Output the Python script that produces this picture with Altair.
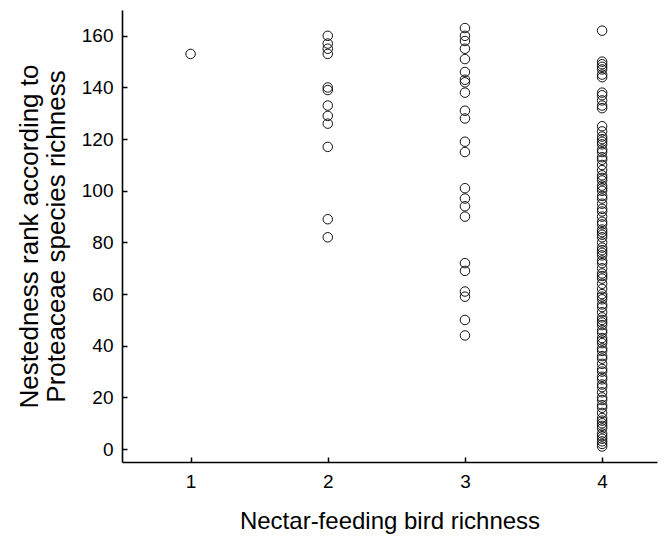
import altair as alt
import pandas as pd

# x = nectar-feeding bird richness, y = nestedness rank
col1 = [153]
col2 = [160, 157, 155, 153, 140, 139, 133, 129, 126, 117, 89, 82]
col3 = [163, 160, 158, 155, 151, 146, 143, 142, 138, 131, 128, 119, 115,
        101, 97, 94, 90, 72, 69, 61, 59, 50, 44]
col4 = [162, 150, 149, 148, 147, 145, 144, 138, 137, 135, 133, 132,
        125, 123, 121, 120, 119, 118, 116, 115, 113, 112, 110, 108, 106, 105,
        104, 102, 101, 100, 98, 97, 95, 93, 92, 90, 88, 87, 85, 84, 83, 82,
        80, 78, 77, 76, 75, 73, 72, 70, 68, 67, 66, 64, 62, 60, 59, 58, 56,
        55, 53, 51, 50, 49, 48, 46, 45, 43, 42, 41, 39, 38, 36, 35, 33, 31,
        30, 28, 27, 25, 24, 22, 20, 19, 17, 16, 14, 12, 11, 10, 9, 8, 6, 5,
        4, 3, 2, 1]
x_ticks = [1, 2, 3, 4]
y_ticks = [0, 20, 40, 60, 80, 100, 120, 140, 160]

rows = []
for xv, col in zip([1, 2, 3, 4], [col1, col2, col3, col4]):
    for v in col:
        rows.append({"birds": xv, "rank": v})
df = pd.DataFrame(rows)

FONT = "Liberation Sans"
xscale = alt.Scale(domain=[0.5, 4.4], nice=False, zero=False)
yscale = alt.Scale(domain=[-5, 170], nice=False, zero=False)

points = alt.Chart(df).mark_point(
    shape="circle", filled=False, size=90, stroke="#111", strokeWidth=1, opacity=1
).encode(
    x=alt.X("birds:Q", scale=xscale,
            axis=alt.Axis(values=x_ticks, title="Nectar-feeding bird richness",
                          tickSize=0, labelPadding=10, titlePadding=18,
                          domainColor="black", domainWidth=1.6, grid=False,
                          labelFontSize=19, titleFontSize=24, labelFont=FONT,
                          titleFont=FONT, titleFontWeight="normal",
                          labelColor="black", titleColor="black")),
    y=alt.Y("rank:Q", scale=yscale,
            axis=alt.Axis(values=y_ticks,
                          title=["Nestedness rank according to", "Proteaceae species richness"],
                          tickSize=0, labelPadding=9, titlePadding=12,
                          domainColor="black", domainWidth=1.6, grid=False,
                          labelFontSize=19, titleFontSize=26, labelFont=FONT,
                          titleFont=FONT, titleFontWeight="normal",
                          titleLineHeight=27,
                          labelColor="black", titleColor="black")),
)

ticks = alt.Chart(df).mark_point(opacity=0).encode(
    x=alt.X("birds:Q", scale=xscale,
            axis=alt.Axis(values=x_ticks, orient="bottom", offset=-5, tickSize=5,
                          tickColor="black", tickWidth=1.5, labels=False,
                          domain=False, title=None, grid=False)),
    y=alt.Y("rank:Q", scale=yscale,
            axis=alt.Axis(values=y_ticks, orient="left", offset=-5, tickSize=5,
                          tickColor="black", tickWidth=1.5, labels=False,
                          domain=False, title=None, grid=False)),
)

chart = alt.layer(points, ticks).resolve_axis(x="independent", y="independent").properties(
    width=535, height=452,
    autosize=alt.AutoSizeParams(type="none"),
    padding={"left": 122, "top": 10, "right": 9, "bottom": 77},
    background="white",
).configure_view(stroke=None)

chart.save("out.html", embed_options={"renderer": "svg", "actions": False})
